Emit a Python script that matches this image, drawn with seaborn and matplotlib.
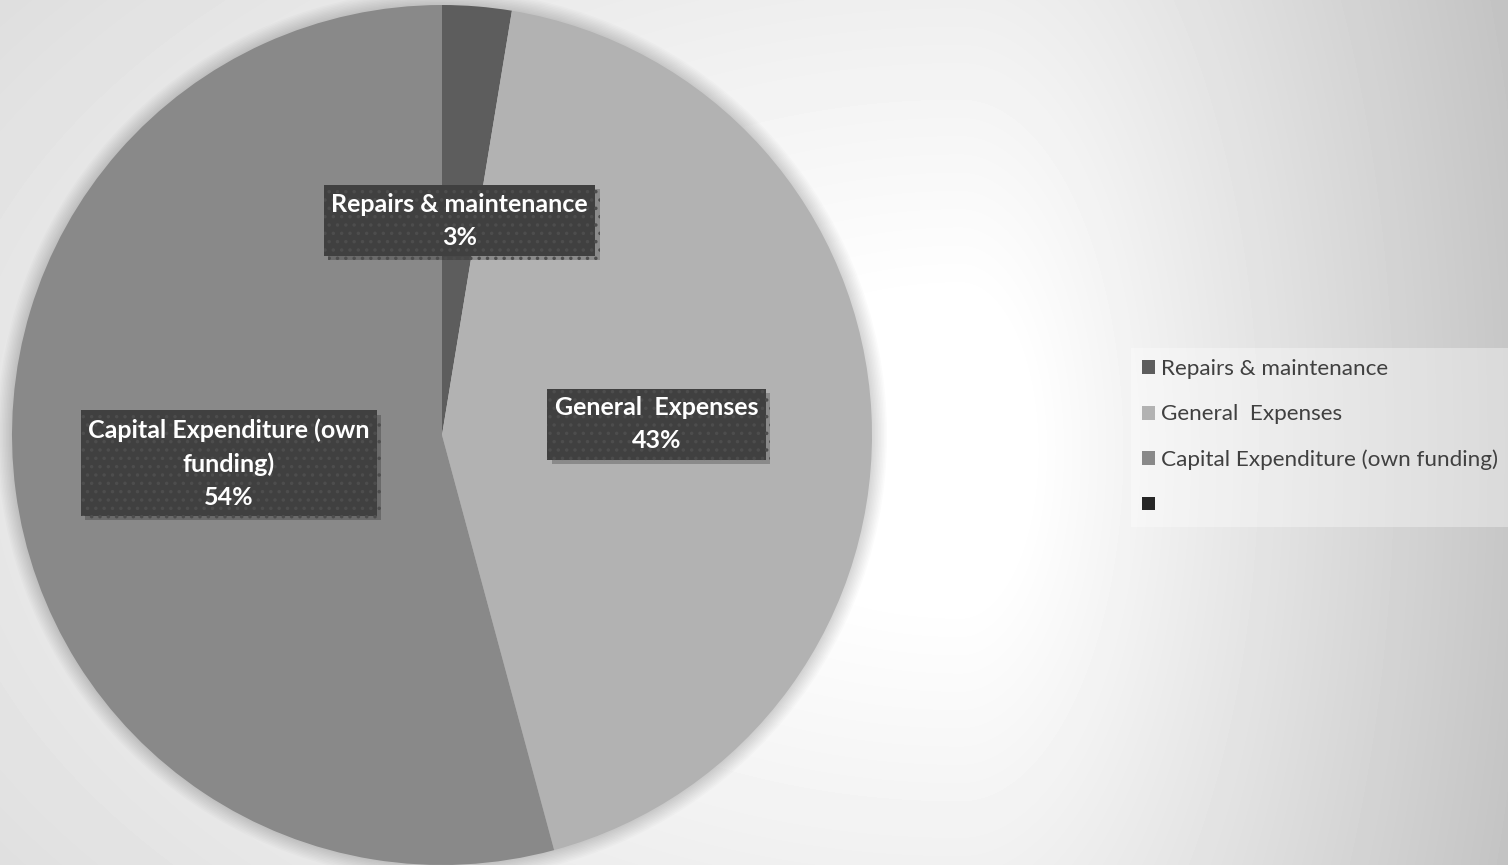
import textwrap
import numpy as np
import matplotlib
matplotlib.use("Agg")
import matplotlib.pyplot as plt
import matplotlib.patheffects as pe
from matplotlib.patches import Patch, Circle
import seaborn as sns

# ---- data ----
categories = ["Repairs & maintenance", "General  Expenses", "Capital Expenditure (own funding)", ""]
values = [2.6, 43.2, 54.2, 0.0]
colors = ["#5d5d5d", "#b2b2b2", "#898989", "#262626"]

sns.set_theme(style="white")
plt.rcParams["font.family"] = ["Lato", "DejaVu Sans"]
plt.rcParams["hatch.linewidth"] = 1.3

W, H, DPI = 1508, 865, 100
fig = plt.figure(figsize=(W / DPI, H / DPI), dpi=DPI)

# background gradient
bg = fig.add_axes([0, 0, 1, 1])
yy, xx = np.mgrid[0:H, 0:W].astype(float)
cx, cy = 960.0, 450.0
sx = np.where(xx > cx, 580.0, 2000.0)
d = np.sqrt(((xx - cx) / sx) ** 2 + ((yy - cy) / 1250.0) ** 2)
d = np.clip((d - 0.12) / 0.88, 0, None)
v = np.clip(255 - 60 * d, 0, 255) / 255.0
bg.imshow(v, cmap="gray", vmin=0, vmax=1, extent=(0, W, H, 0), aspect="auto", interpolation="bilinear")
bg.set_axis_off()

# pie axes
R_PX = 430
cxp, cyp = 442, 435
ax = fig.add_axes([(cxp - R_PX) / W, (H - cyp - R_PX) / H, 2 * R_PX / W, 2 * R_PX / H])
ax.set_facecolor("none")
ax.set_axis_off()

# soft shadow halo
for k in range(10):
    ax.add_patch(Circle((0, 0), 1.0 + 0.0035 * (k + 1), color="black", alpha=0.014,
                        lw=0, zorder=0, clip_on=False))

wrapped = iter([textwrap.fill(c, 24) for c in categories])

def fmt(pct):
    name = next(wrapped)
    if not name:
        return ""
    return f"{name}\n{pct:.0f}%"

wedges, _, autotexts = ax.pie(
    values, colors=colors, startangle=90, counterclock=False, radius=1.0,
    autopct=fmt, pctdistance=0.5, labels=None,
    wedgeprops=dict(linewidth=0),
    textprops=dict(color="white", fontsize=18, fontweight="bold", linespacing=1.53),
)
for w in wedges:
    w.set_zorder(2)
for t in autotexts:
    t.set_zorder(5)
    t.set_bbox(dict(boxstyle="square,pad=0.3", fc="#404040", ec="#4d4d4d", lw=0, hatch=".."))
    t.get_bbox_patch().set_path_effects([
        pe.SimplePatchShadow(offset=(3, -3), shadow_rgbFace="#000000", alpha=0.22),
        pe.Normal(),
    ])
ax.set_xlim(-1, 1)
ax.set_ylim(-1, 1)

handles = [Patch(facecolor=c, edgecolor="none") for c in colors]
leg = fig.legend(
    handles, categories, loc="upper left", bbox_to_anchor=(1131 / W, 1 - 348 / H),
    frameon=True, fontsize=16.2, handlelength=0.58, handleheight=0.58,
    handletextpad=0.27, labelspacing=1.12, borderpad=0.5, borderaxespad=0,
)
fr = leg.get_frame()
fr.set_facecolor("white")
fr.set_alpha(0.35)
fr.set_edgecolor("none")
fr.set_boxstyle("square", pad=0)
for txt in leg.get_texts():
    txt.set_color("#404040")

fig.savefig("out.png", dpi=DPI)
